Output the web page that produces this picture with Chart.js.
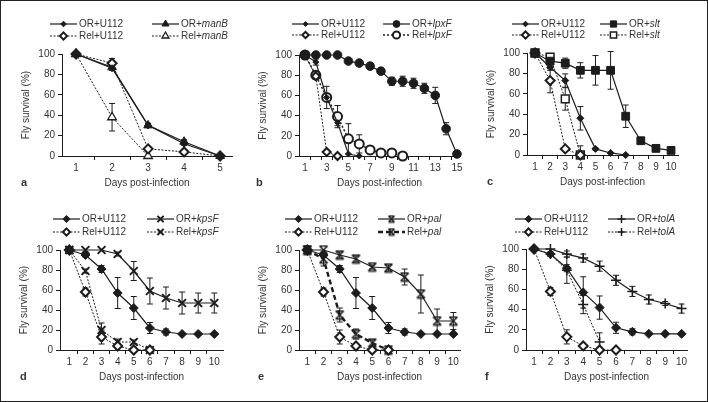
<!DOCTYPE html>
<html>
<head>
<meta charset="utf-8">
<script src="https://cdn.jsdelivr.net/npm/chart.js@4.4.1/dist/chart.umd.min.js"></script>
<style>
  html, body { margin: 0; padding: 0; background: #fff; }
  #fig { position: relative; width: 708px; height: 402px; overflow: hidden; }
  #fig canvas { position: absolute; left: 0; top: 0; }
  #frame { position: absolute; left: 0; top: 0; width: 708px; height: 402px; box-sizing: border-box;
           border: 1.5px solid #222; pointer-events: none; }
</style>
</head>
<body>
<div id="fig">
  <canvas id="pa" width="708" height="402"></canvas>
  <canvas id="pb" width="708" height="402"></canvas>
  <canvas id="pc" width="708" height="402"></canvas>
  <canvas id="pd" width="708" height="402"></canvas>
  <canvas id="pe" width="708" height="402"></canvas>
  <canvas id="pf" width="708" height="402"></canvas>
  <div id="frame"></div>
</div>
<script>
// ---- data (fly survival %, day 1 onwards) ----
// a: manB
const DAYS_A = [1, 2, 3, 4, 5];
const OR_U112_A = [100, 86, 30, 12, 0];
const OR_U112_A_ERR = [0, 2, 2, 1.5, 0];
const REL_U112_A = [100, 91, 7, 4, 0];
const REL_U112_A_ERR = [0, 4.5, 1, 1, 0];
const OR_MANB = [100, 87, 30, 14, 0];
const OR_MANB_ERR = [0, 2, 2, 2, 0];
const REL_MANB = [100, 38, 0];
const REL_MANB_ERR = [0, 13.5, 0];

// b: lpxF
const DAYS_B = [1, 3, 5, 7, 9, 11, 13, 15];
const OR_U112_B = [100, 93, 58, 33, 2, 0];
const OR_U112_B_ERR = [0, 3, 2, 3, 0, 0];
const REL_U112_B = [100, 79, 4, 0];
const REL_U112_B_ERR = [0, 3, 1, 0];
const OR_LPXF = [100, 100, 100, 100, 94, 92, 89, 84, 74, 74, 72, 67, 60, 27, 2];
const OR_LPXF_ERR = [0, 0, 0, 0, 1, 1, 1, 1, 4, 5, 5, 5, 8, 6, 0];
const REL_LPXF = [100, 80, 58, 39, 17, 12, 6, 3, 3, 0];
const REL_LPXF_ERR = [0, 3, 11, 11, 15, 9, 4, 0, 0, 0];

// c: slt
const DAYS_C = [1, 2, 3, 4, 5, 6, 7, 8, 9, 10];
const OR_U112_C = [100, 86, 73, 36, 6, 2, 0];
const OR_U112_C_ERR = [0, 3, 6.5, 11.5, 1, 0, 0];
const REL_U112_C = [100, 73, 6, 0];
const REL_U112_C_ERR = [0, 12, 1, 0];
const OR_SLT = [100, 92, 90, 83, 83, 83, 38, 14, 6.5, 4.5];
const OR_SLT_ERR = [0, 3, 5, 7.5, 14.5, 18.5, 11, 1, 1, 1];
const REL_SLT = [100, 96, 55, 0];
const REL_SLT_ERR = [0, 3, 11, 9];

// d-f share the same controls
const DAYS_DEF = [1, 2, 3, 4, 5, 6, 7, 8, 9, 10];
const OR_U112_D = [100, 95, 81, 57, 42, 22, 18, 16, 16, 16];
const OR_U112_D_ERR = [0, 2, 3.5, 15.5, 11.5, 5.5, 3, 1, 1, 1];
const REL_U112_D = [100, 58, 13, 4, 0, 0];
const REL_U112_D_ERR = [0, 4, 7, 1, 0, 0];

const OR_KPSF = [100, 100, 100, 96, 79, 59, 52, 47, 47, 47];
const OR_KPSF_ERR = [0, 0, 0, 2, 9.5, 13, 11, 11, 10, 10];
const REL_KPSF = [100, 79, 20, 8, 8, 0];
const REL_KPSF_ERR = [0, 2, 7, 3, 2, 0];

const OR_PAL = [100, 100, 95, 91, 83, 82, 73, 56, 29, 29];
const OR_PAL_ERR = [0, 0, 3, 3, 2, 3, 8, 19, 12, 8.5];
const REL_PAL = [100, 91, 35, 16, 7, 0];
const REL_PAL_ERR = [0, 7, 7, 5, 3, 0];

const OR_TOLA = [100, 100, 95, 91, 83, 69, 58, 50, 46, 41];
const OR_TOLA_ERR = [0, 0, 3, 4, 5, 5, 5, 4.5, 2, 4.5];
const REL_TOLA = [100, 95, 79, 45, 8];
const REL_TOLA_ERR = [0, 2, 13, 9, 9];

// ---- styling ----
const FONT = '"Liberation Sans", Arial, sans-serif';
const INK = '#1c1c1c';
const TEXT = '#333';
const W = 708, H = 402;
const YW = 42;   // fixed width of the y axis box
const XH = 33;   // fixed height of the x axis box

Chart.defaults.font.family = FONT;

// bow-tie marker used for pal
function palMarker(s) {
  const c = document.createElement('canvas');
  c.width = s; c.height = s;
  const g = c.getContext('2d');
  const a = 1.5, b = s - 1.5;
  g.strokeStyle = INK; g.lineWidth = 1.5;
  g.beginPath();
  g.moveTo(a, a); g.lineTo(b, b);
  g.moveTo(b, a); g.lineTo(a, b);
  g.moveTo(a, a); g.lineTo(b, a);
  g.moveTo(a, b); g.lineTo(b, b);
  g.stroke();
  return c;
}
const PAL = palMarker(11);
const PAL_SMALL = palMarker(9);

const solid = { borderWidth: 1.2, borderDash: [] };
const dotted = { borderWidth: 1, borderDash: [2, 1.5] };
const boldDash = { borderWidth: 2.4, borderDash: [5, 3] };

const filled = (style, r) => ({ pointStyle: style, pointRadius: r, pointBackgroundColor: INK, pointBorderColor: INK, pointBorderWidth: 1 });
const hollow = (style, r, w) => ({ pointStyle: style, pointRadius: r, pointBackgroundColor: '#fff', pointBorderColor: INK, pointBorderWidth: w });

function series(label, values, errors, line, marker) {
  return {
    label,
    data: values.map((v, i) => ({ x: i + 1, y: v })),
    errors,
    borderColor: INK,
    backgroundColor: INK,
    tension: 0,
    clip: false,
    ...line,
    ...marker,
  };
}

// vertical error bars with caps, placed through the chart's scales
const errorBars = {
  id: 'errorBars',
  beforeDatasetsDraw(chart) {
    const { ctx, scales: { x, y } } = chart;
    ctx.save();
    ctx.strokeStyle = INK;
    ctx.lineWidth = 1;
    ctx.setLineDash([]);
    chart.data.datasets.forEach(ds => {
      if (!ds.errors) return;
      ds.data.forEach((p, i) => {
        const e = ds.errors[i];
        if (!e) return;
        const px = x.getPixelForValue(p.x);
        const top = y.getPixelForValue(p.y + e);
        const bot = y.getPixelForValue(Math.max(0, p.y - e));
        ctx.beginPath();
        ctx.moveTo(px, top); ctx.lineTo(px, bot);
        ctx.moveTo(px - 3, top); ctx.lineTo(px + 3, top);
        ctx.moveTo(px - 3, bot); ctx.lineTo(px + 3, bot);
        ctx.stroke();
      });
    });
    ctx.restore();
  }
};

// two-column legend and the panel letter
const panelDeco = {
  id: 'panelDeco',
  afterDraw(chart, args, opts) {
    const ctx = chart.ctx;
    ctx.save();
    chart.data.datasets.forEach((ds, i) => {
      const x0 = opts.cols[i >> 1];
      const y = opts.rows[i & 1];
      ctx.strokeStyle = INK;
      ctx.lineWidth = ds.borderWidth;
      ctx.setLineDash(ds.borderDash);
      ctx.beginPath();
      ctx.moveTo(x0, y); ctx.lineTo(x0 + 27, y);
      ctx.stroke();
      ctx.setLineDash([]);
      ctx.fillStyle = ds.pointBackgroundColor;
      ctx.strokeStyle = ds.pointBorderColor;
      ctx.lineWidth = ds.pointBorderWidth;
      const style = ds.pointStyle === PAL ? PAL_SMALL : ds.pointStyle;
      Chart.helpers.drawPoint(ctx, { pointStyle: style, radius: ds.pointRadius * 0.8, rotation: 0, borderWidth: ds.pointBorderWidth }, x0 + 13.5, y);

      const [pre, gene] = ds.label.split('+');
      ctx.fillStyle = TEXT;
      ctx.textBaseline = 'middle';
      ctx.textAlign = 'left';
      ctx.font = '10px ' + FONT;
      const head = pre + '+';
      ctx.fillText(head, x0 + 29, y);
      const w = ctx.measureText(head).width;
      ctx.font = (gene === 'U112' ? '' : 'italic ') + '10px ' + FONT;
      ctx.fillText(gene, x0 + 29 + w, y);
    });
    ctx.font = 'bold 11px ' + FONT;
    ctx.fillStyle = TEXT;
    ctx.textBaseline = 'middle';
    ctx.fillText(opts.letter, opts.letterX, opts.letterY);
    ctx.restore();
  }
};

function makePanel(id, p) {
  const tickVals = [...p.labels, ...p.marks].sort((a, b) => a - b);
  new Chart(document.getElementById(id), {
    type: 'line',
    data: { datasets: p.datasets },
    options: {
      responsive: false,
      animation: false,
      events: [],
      layout: { padding: { left: p.L - YW, right: W - p.R, top: p.T, bottom: H - p.B - XH } },
      plugins: {
        legend: { display: false },
        tooltip: { enabled: false },
        panelDeco: { cols: p.cols, rows: p.rows, letter: p.letter, letterX: p.letterX, letterY: p.B + 27 },
      },
      scales: {
        x: {
          type: 'linear',
          min: p.xmin,
          max: p.xmax,
          afterFit: s => { s.height = XH; },
          afterBuildTicks: s => { s.ticks = tickVals.map(v => ({ value: v })); },
          ticks: {
            autoSkip: false,
            maxRotation: 0,
            padding: 2,
            color: TEXT,
            font: { size: 10 },
            callback: v => (p.labels.includes(v) ? String(v) : ''),
          },
          grid: {
            drawOnChartArea: false,
            tickLength: 4,
            color: INK,
            tickColor: c => (c.tick && p.marks.includes(c.tick.value) ? INK : 'rgba(0,0,0,0)'),
          },
          border: { color: INK, width: 1 },
          title: { display: true, text: 'Days post-infection', color: TEXT, font: { size: 10 }, padding: 0 },
        },
        y: {
          min: 0,
          max: 100,
          afterFit: s => { s.width = YW; },
          ticks: { stepSize: 20, padding: 3, color: TEXT, font: { size: 10 } },
          grid: { drawOnChartArea: false, tickLength: 4, color: INK },
          border: { color: INK, width: 1 },
          title: { display: true, text: 'Fly survival (%)', color: TEXT, font: { size: 10 }, padding: 0 },
        },
      },
    },
    plugins: [errorBars, panelDeco],
  });
}

const halfSteps = n => Array.from({ length: n - 1 }, (_, i) => i + 1.5);

makePanel('pa', {
  L: 62, R: 232, T: 54, B: 156, xmin: 0.61, xmax: 5.33,
  labels: DAYS_A, marks: halfSteps(5),
  cols: [50, 152], rows: [24, 36], letter: 'a', letterX: 21,
  datasets: [
    series('OR+U112', OR_U112_A, OR_U112_A_ERR, solid, filled('rectRot', 3.5)),
    series('Rel+U112', REL_U112_A, REL_U112_A_ERR, dotted, hollow('rectRot', 4.5, 2)),
    series('OR+manB', OR_MANB, OR_MANB_ERR, solid, filled('triangle', 5)),
    series('Rel+manB', REL_MANB, REL_MANB_ERR, dotted, hollow('triangle', 5, 1.3)),
  ],
});

makePanel('pb', {
  L: 299, R: 460, T: 55, B: 156, xmin: 0.45, xmax: 15.28,
  labels: DAYS_B, marks: halfSteps(15),
  cols: [292, 383], rows: [24, 35], letter: 'b', letterX: 256,
  datasets: [
    series('OR+U112', OR_U112_B, OR_U112_B_ERR, solid, filled('rectRot', 3)),
    series('Rel+U112', REL_U112_B, REL_U112_B_ERR, dotted, hollow('rectRot', 4, 2)),
    series('OR+lpxF', OR_LPXF, OR_LPXF_ERR, solid, filled('circle', 4.3)),
    series('Rel+lpxF', REL_LPXF, REL_LPXF_ERR, { borderWidth: 1.5, borderDash: [2, 2] }, hollow('circle', 4.5, 2)),
  ],
});

makePanel('pc', {
  L: 527, R: 678, T: 53, B: 155, xmin: 0.47, xmax: 10.46,
  labels: DAYS_C, marks: halfSteps(10),
  cols: [512, 600], rows: [24, 35], letter: 'c', letterX: 487,
  datasets: [
    series('OR+U112', OR_U112_C, OR_U112_C_ERR, solid, filled('rectRot', 3.5)),
    series('Rel+U112', REL_U112_C, REL_U112_C_ERR, dotted, hollow('rectRot', 4.5, 2)),
    series('OR+slt', OR_SLT, OR_SLT_ERR, solid, filled('rect', 5.5)),
    series('Rel+slt', REL_SLT, REL_SLT_ERR, dotted, hollow('rect', 5.5, 1.5)),
  ],
});

makePanel('pd', {
  L: 60, R: 223, T: 250, B: 350, xmin: 0.42, xmax: 10.54,
  labels: DAYS_DEF, marks: halfSteps(10),
  cols: [53, 147], rows: [219, 232], letter: 'd', letterX: 20,
  datasets: [
    series('OR+U112', OR_U112_D, OR_U112_D_ERR, solid, filled('rectRot', 4.5)),
    series('Rel+U112', REL_U112_D, REL_U112_D_ERR, dotted, hollow('rectRot', 4.5, 2)),
    series('OR+kpsF', OR_KPSF, OR_KPSF_ERR, solid, hollow('crossRot', 5.5, 2)),
    series('Rel+kpsF', REL_KPSF, REL_KPSF_ERR, dotted, hollow('crossRot', 5.5, 2)),
  ],
});

makePanel('pe', {
  L: 299, R: 460, T: 250, B: 350, xmin: 0.49, xmax: 10.41,
  labels: DAYS_DEF, marks: halfSteps(10),
  cols: [285, 378], rows: [219, 232], letter: 'e', letterX: 258,
  datasets: [
    series('OR+U112', OR_U112_D, OR_U112_D_ERR, solid, filled('rectRot', 4.5)),
    series('Rel+U112', REL_U112_D, REL_U112_D_ERR, dotted, hollow('rectRot', 4.5, 2)),
    series('OR+pal', OR_PAL, OR_PAL_ERR, solid, filled(PAL, 5.5)),
    series('Rel+pal', REL_PAL, REL_PAL_ERR, boldDash, filled(PAL, 5.5)),
  ],
});

makePanel('pf', {
  L: 526, R: 687, T: 249, B: 350, xmin: 0.51, xmax: 10.33,
  labels: DAYS_DEF, marks: halfSteps(10),
  cols: [515, 608], rows: [219, 232], letter: 'f', letterX: 485,
  datasets: [
    series('OR+U112', OR_U112_D, OR_U112_D_ERR, solid, filled('rectRot', 4.5)),
    series('Rel+U112', REL_U112_D, REL_U112_D_ERR, dotted, hollow('rectRot', 4.5, 2)),
    series('OR+tolA', OR_TOLA, OR_TOLA_ERR, solid, hollow('cross', 5, 1.5)),
    series('Rel+tolA', REL_TOLA, REL_TOLA_ERR, dotted, hollow('cross', 5, 1.5)),
  ],
});
</script>
</body>
</html>
